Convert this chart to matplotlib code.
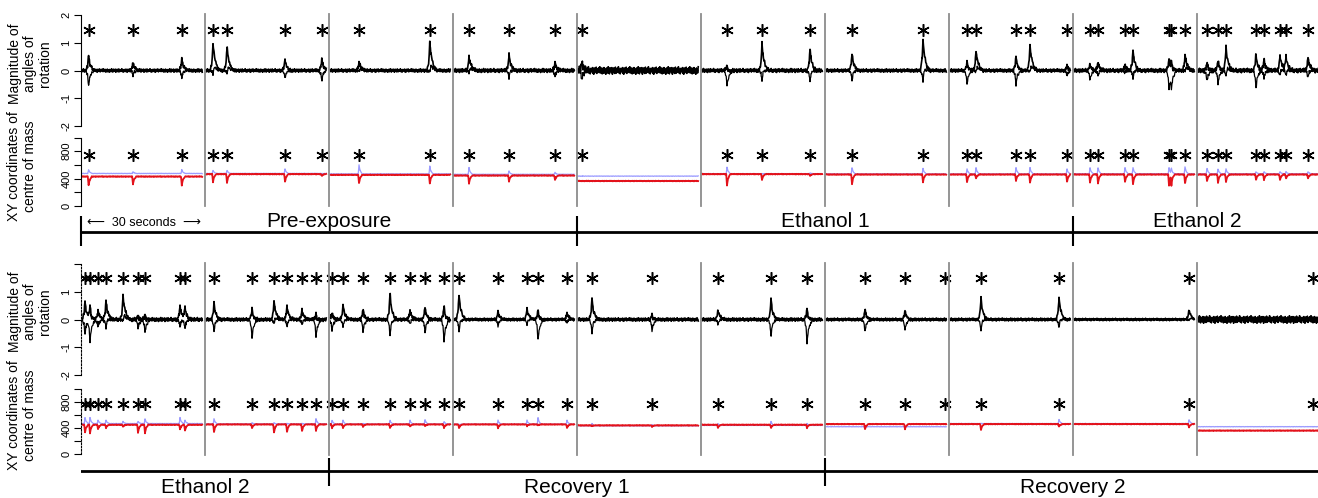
import numpy as np
import matplotlib.pyplot as plt
from matplotlib.lines import Line2D
from matplotlib.transforms import blended_transform_factory

plt.rcParams['font.family'] = ['Liberation Sans', 'DejaVu Sans']

W, H = 1318, 498
PANEL = 31          # one 30 s trace plus a small gap
XMAX = 1237 / 4.0   # 4 px per second, axes run to the right edge

# ---------------- top row: Pre-exposure / Ethanol 1 / Ethanol 2 ----------------
# event times (s into each 30 s clip) - asterisks sit on these
TOP_T = [
    [1.9, 13.0, 25.2],
    [2.0, 5.5, 20.0, 29.2],
    [7.5, 25.2],
    [4.0, 14.0, 25.5],
    [1.2],
    [6.5, 15.25, 27.25],
    [6.75, 24.5],
    [4.5, 6.75, 16.75, 20.25, 29.5],
    [4.25, 6.25, 13.0, 15.0, 24.0, 24.6, 28.0],
    [2.5, 5.25, 7.25, 14.75, 16.75, 20.75, 22.25, 27.75],
]
TOP_UP = [
    [0.6, 0.3, 0.45],
    [1.0, 0.85, 0.4, 0.45],
    [0.3, 1.0],
    [0.5, 0.6, 0.3],
    [0.35],
    [0.2, 1.0, 0.8],
    [0.65, 1.15],
    [0.35, 0.7, 0.55, 0.9, 0.2],
    [0.25, 0.3, 0.2, 0.75, 0.45, 0.3, 0.55],
    [0.3, 0.4, 0.85, 0.65, 0.4, 0.55, 0.5, 0.5],
]
TOP_DOWN = [
    [-0.6, -0.2, -0.3],
    [-0.2, -0.15, -0.3, -0.4],
    [-0.05, -0.1],
    [-0.1, -0.3, -0.25],
    [-0.35],
    [-0.55, -0.45, -0.45],
    [-0.4, -0.45],
    [-0.5, -0.1, -0.55, -0.1, -0.2],
    [-0.35, -0.2, -0.1, -0.35, -0.65, -0.5, -0.05],
    [-0.4, -0.5, -0.25, -0.7, -0.3, -0.2, -0.2, -0.3],
]
TOP_RED_MIN = [
    [300, 320, 300],
    [350, 340, 350, 440],
    [330, 330],
    [330, 360, 380],
    [365],
    [300, 380, 440],
    [320, 350],
    [350, 400, 370, 340, 350],
    [340, 330, 350, 320, 300, 320, 330],
    [360, 340, 350, 380, 380, 380, 400, 400],
]
TOP_BLUE_MAX = [
    [530, 500, 530],
    [520, 520, 540, 470],
    [600, 580],
    [560, 510, 490],
    [436],
    [570, 470, 480],
    [560, 550],
    [540, 560, 560, 560, 540],
    [560, 560, 560, 560, 560, 540, 570],
    [550, 540, 540, 500, 500, 500, 500, 500],
]
TOP_RED_BASE = [430, 465, 455, 445, 365, 465, 460, 460, 460, 460]
TOP_BLUE_BASE = [475, 475, 468, 462, 436, 472, 468, 468, 470, 470]
TOP_NOISE = [0.07, 0.07, 0.07, 0.08, 0.15, 0.08, 0.07, 0.07, 0.08, 0.09]

# ---------------- bottom row: Ethanol 2 / Recovery 1 / Recovery 2 ----------------
BOT_T = [
    [1.0, 2.25, 4.25, 6.25, 10.5, 14.25, 16.0, 24.75, 26.0],
    [2.25, 11.75, 17.25, 20.5, 24.25, 27.75],
    [0.75, 3.5, 8.5, 15.25, 20.25, 24.0, 28.75],
    [1.5, 11.25, 18.5, 21.25, 28.5],
    [3.75, 18.75],
    [4.25, 17.5, 26.5],
    [10.0, 20.0, 30.0],
    [8.0, 27.5],
    [29.0],
    [29.0],
]
BOT_UP = [
    [0.7, 0.5, 0.35, 0.7, 0.85, 0.15, 0.2, 0.5, 0.45],
    [0.62, 0.44, 0.66, 0.5, 0.35, 0.25],
    [0.3, 0.55, 0.4, 1.0, 0.35, 0.5, 0.55],
    [0.95, 0.3, 0.4, 0.4, 0.25],
    [0.8, 0.2],
    [0.35, 0.79, 0.45],
    [0.4, 0.35, 0.0],
    [0.8, 0.8],
    [0.35],
    [0.0],
]
BOT_DOWN = [
    [-0.6, -0.8, -0.3, -0.35, -0.1, -0.3, -0.45, -0.3, -0.35],
    [-0.46, -0.69, -0.2, -0.3, -0.2, -0.61],
    [-0.4, -0.3, -0.45, -0.65, -0.2, -0.5, -0.82],
    [-0.5, -0.25, -0.2, -0.76, -0.15],
    [-0.55, -0.4],
    [-0.2, -0.67, -0.87],
    [-0.45, -0.4, 0.0],
    [-0.46, -0.35],
    [-0.05],
    [0.0],
]
BOT_RED_MIN = [
    [330, 320, 380, 400, 420, 330, 320, 380, 360],
    [340, 400, 330, 340, 350, 360],
    [400, 400, 420, 400, 420, 430, 400],
    [400, 400, 430, 440, 400],
    [430, 420],
    [400, 400, 400],
    [380, 380, 460],
    [370, 420],
    [410],
    [360],
]
BOT_BLUE_MAX = [
    [560, 560, 520, 520, 500, 500, 540, 560, 520],
    [540, 480, 480, 470, 470, 540],
    [520, 520, 470, 520, 520, 530, 500],
    [450, 520, 520, 560, 520],
    [470, 450],
    [470, 500, 470],
    [420, 420, 420],
    [470, 530],
    [530],
    [420],
]
BOT_RED_BASE = [450, 455, 455, 455, 440, 450, 460, 460, 460, 360]
BOT_BLUE_BASE = [468, 462, 460, 458, 435, 440, 420, 468, 468, 420]
BOT_NOISE = [0.08, 0.07, 0.07, 0.06, 0.07, 0.07, 0.06, 0.06, 0.05, 0.15]

TOP_PHASES = ['Pre-exposure', 'Ethanol 1', 'Ethanol 2']
TOP_PHASE_MID = [2, 6, 9]
TOP_PHASE_TICKS = [0, 4, 8]
BOT_PHASES = ['Ethanol 2', 'Recovery 1', 'Recovery 2']
BOT_PHASE_MID = [1, 4, 8]
BOT_PHASE_TICKS = [2, 6]

# fixed texture for the baseline wobble of the traces
JITTER = [0.3, -0.6, 0.9, -0.2, -0.8, 0.5, 0.1, -0.4, 0.7, -0.9, 0.2, 0.6, -0.3,
          -0.7, 0.8, 0.0, -0.5, 0.4, -0.1, 0.9, -0.6, 0.3, -0.8, 0.5, 0.2, -0.3,
          0.7, -0.4, -0.9, 0.6, 0.1, -0.2, 0.8, -0.7, 0.4, -0.1, 0.5, -0.5, 0.9,
          -0.3, 0.0, 0.6, -0.8, 0.2, -0.6, 0.7, -0.2, 0.3, -0.9, 0.4]

RED = '#e3121b'
BLUE = '#9c9cff'
GREY = '#8c8c8c'


def px_axes(fig, left, top, right, bottom):
    return fig.add_axes([left / W, 1 - bottom / H, (right - left) / W, (bottom - top) / H])


def spike(x, t0, amp):
    # broad angle excursion: quick rise, shoulder, slow return
    return np.interp(x, [t0 - 0.7, t0 - 0.25, t0, t0 + 0.35, t0 + 1.0, t0 + 1.8],
                     [0, 0.3 * amp, amp, 0.55 * amp, 0.15 * amp, 0], left=0, right=0)


def blip(x, t0, amp):
    # short dip / jump in centre-of-mass coordinates
    return np.interp(x, [t0 - 0.2, t0, t0 + 0.25, t0 + 0.8],
                     [0, amp, 0.4 * amp, 0], left=0, right=0)


def style_axis(ax, dotted=False):
    for s in ['top', 'right', 'bottom']:
        ax.spines[s].set_visible(False)
    ax.spines['left'].set_linewidth(0.8)
    if dotted:
        ax.spines['left'].set_linestyle((0, (1.5, 1.5)))
    ax.set_xticks([])
    ax.set_xlim(0, XMAX)
    ax.tick_params(axis='y', direction='out', length=5, width=0.8, labelsize=8, pad=2)
    for lab in ax.get_yticklabels():
        lab.set_rotation(90)
        lab.set_va('center')
    ax.patch.set_alpha(0)


def draw_row(ax_ang, ax_xy, T, UP, DOWN, RED_MIN, BLUE_MAX, RED_BASE, BLUE_BASE, NOISE,
             star_ang, star_xy):
    for k in range(len(T)):
        x0 = k * PANEL
        ev = np.array(T[k]) + x0
        grid = x0 + np.arange(0.3, 30.31, 0.15)
        tt = np.union1d(grid, np.concatenate([ev, ev - 0.2, ev + 0.25]))
        tt = tt[(tt >= x0 + 0.3) & (tt <= x0 + 30.3)]
        jit = np.resize(np.array(JITTER), len(tt))
        jit2 = np.roll(jit, 17)
        a = NOISE[k] * jit
        b = NOISE[k] * 0.8 * jit2
        red = RED_BASE[k] + 6 * jit2
        blue = BLUE_BASE[k] + 4 * jit
        for t, u, d, rm, bm in zip(ev, UP[k], DOWN[k], RED_MIN[k], BLUE_MAX[k]):
            a = a + spike(tt, t, u) + spike(tt, t + 0.3, 0.25 * d)
            b = b + spike(tt, t, d) + spike(tt, t + 0.3, 0.25 * u)
            red = red + blip(tt, t, rm - RED_BASE[k])
            blue = blue + blip(tt, t, bm - BLUE_BASE[k])
        ax_ang.plot(tt, b, color='black', lw=0.9)
        ax_ang.plot(tt, a, color='black', lw=1.2)
        ax_xy.plot(tt, blue, color=BLUE, lw=0.9)
        ax_xy.plot(tt, red, color=RED, lw=1.3)
        ax_ang.plot(ev, [star_ang] * len(ev), ls='none', marker=(6, 2, 0),
                    ms=9, mew=1.1, color='black')
        ax_xy.plot(ev, [star_xy] * len(ev), ls='none', marker=(6, 2, 0),
                   ms=9, mew=1.1, color='black')


def separators(fig, ax, y_top, y_bot):
    tr = blended_transform_factory(ax.transData, fig.transFigure)
    for k in range(1, 10):
        fig.add_artist(Line2D([k * PANEL, k * PANEL], [1 - y_top / H, 1 - y_bot / H],
                              transform=tr, color=GREY, lw=1.3))


def bracket(ax, line_y, tick_top, tick_bot, ticks, names, mids, label_y, va):
    ax.set_xlim(0, XMAX)
    ax.axhline(line_y, color='black', lw=2.0)
    ax.vlines([k * PANEL for k in ticks], tick_top, tick_bot, color='black', lw=1.5,
              clip_on=False)
    for name, m in zip(names, mids):
        ax.text(m * PANEL, label_y, name, ha='center', va=va, fontsize=15)
    ax.axis('off')


fig = plt.figure(figsize=(W / 100, H / 100), dpi=100)
fig.patch.set_facecolor('white')

# top row axes
t_ang = px_axes(fig, 81, 15, 1318, 126)
t_xy = px_axes(fig, 81, 137.5, 1318, 206)
# bottom row axes
b_ang = px_axes(fig, 81, 264, 1318, 375)
b_xy = px_axes(fig, 81, 389, 1318, 454)

for ax in [t_ang, b_ang]:
    ax.set_ylim(-2, 2)
    ax.set_yticks([-2, -1, 0, 1, 2])
for ax in [t_xy, b_xy]:
    ax.set_ylim(0, 1000)
    ax.set_yticks([0, 200, 400, 600, 800, 1000])
    ax.set_yticklabels(['0', '', '400', '', '800', ''])
t_ang.set_yticklabels(['-2', '-1', '0', '1', '2'])
b_ang.set_yticklabels(['-2', '-1', '0', '1', ''])

style_axis(t_ang)
style_axis(t_xy)
style_axis(b_ang, dotted=True)
style_axis(b_xy, dotted=True)

draw_row(t_ang, t_xy, TOP_T, TOP_UP, TOP_DOWN, TOP_RED_MIN, TOP_BLUE_MAX,
         TOP_RED_BASE, TOP_BLUE_BASE, TOP_NOISE, 1.46, 745)
draw_row(b_ang, b_xy, BOT_T, BOT_UP, BOT_DOWN, BOT_RED_MIN, BOT_BLUE_MAX,
         BOT_RED_BASE, BOT_BLUE_BASE, BOT_NOISE, 1.48, 770)

separators(fig, t_ang, 14, 206)
separators(fig, b_ang, 263, 455)

# phase brackets
tb = px_axes(fig, 81, 205, 1318, 252)
tb.set_ylim(252, 205)
bracket(tb, 232, 216, 246, TOP_PHASE_TICKS, TOP_PHASES, TOP_PHASE_MID, 227, 'baseline')
tb.text(15.8, 226, '\u27f5  30 seconds  \u27f6', ha='center', va='baseline', fontsize=9)

bb = px_axes(fig, 81, 455, 1318, 498)
bb.set_ylim(498, 455)
bracket(bb, 471, 458, 486, BOT_PHASE_TICKS, BOT_PHASES, BOT_PHASE_MID, 487, 'center')

# y-axis titles
for yc, txt, xc in [(64, 'Magnitude of\nangles of\nrotation', 30),
                    (166, 'XY coordinates of\ncentre of mass', 22),
                    (312, 'Magnitude of\nangles of\nrotation', 30),
                    (415, 'XY coordinates of\ncentre of mass', 22)]:
    fig.text(xc / W, 1 - yc / H, txt, rotation=90, ha='center', va='center',
             ma='center', fontsize=10, linespacing=1.1)

fig.savefig('out.png', dpi=100, facecolor='white')
